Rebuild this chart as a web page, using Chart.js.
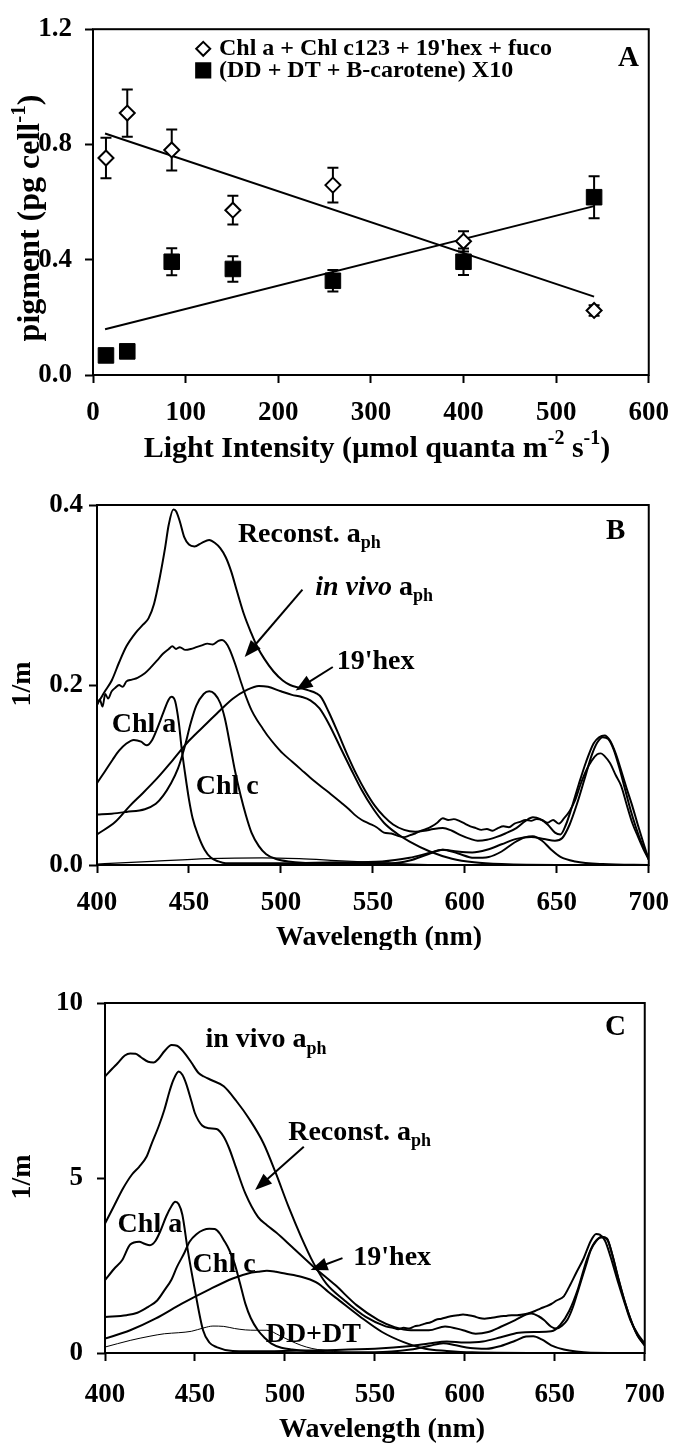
<!DOCTYPE html>
<html>
<head>
<meta charset="utf-8">
<script src="https://cdn.jsdelivr.net/npm/chart.js@4.4.0/dist/chart.umd.min.js"></script>
<style>
  html, body { margin: 0; padding: 0; background: #fff; }
  #wrap { position: relative; width: 683px; height: 1443px; }
  canvas { position: absolute; left: 0; }
</style>
</head>
<body>
<div id="wrap">
  <canvas id="panelA" width="683" height="470" style="top:0px"></canvas>
  <canvas id="panelB" width="683" height="480" style="top:470px"></canvas>
  <canvas id="panelC" width="683" height="493" style="top:950px"></canvas>
</div>
<script>
// ---- panel A : pigment vs light ----
const lightX = [14, 37, 85, 151, 259, 400, 541];
const pigmentMain = [0.753, 0.909, 0.781, 0.572, 0.659, 0.464, 0.224];
const pigmentMainErr = [0.07, 0.082, 0.071, 0.05, 0.06, 0.035, 0.018];
const pigmentCarot = [0.068, 0.082, 0.393, 0.368, 0.327, 0.393, 0.617];
const pigmentCarotErr = [0, 0, 0.047, 0.044, 0.037, 0.046, 0.073];
const fitX = [13, 541];
const fitMain = [0.838, 0.272];
const fitCarot = [0.159, 0.586];
const aTicksX = [0, 100, 200, 300, 400, 500, 600];
const aTicksY = [0, 0.4, 0.8, 1.2];

// ---- panel B : spectra, [nm, 1/m] ----
const bReconst = [[400,0.178],[404,0.192],[408,0.205],[412,0.225],[416,0.243],[421,0.258],[425,0.267],[428,0.274],[431,0.29],[434,0.318],[437,0.352],[439,0.378],[441.5,0.395],[443,0.393],[445,0.382],[447.5,0.364],[450,0.356],[453,0.354],[457,0.358],[461,0.361],[464,0.358],[467,0.352],[470,0.342],[473,0.326],[476,0.305],[480,0.278],[484,0.257],[487,0.243],[491,0.229],[496,0.215],[501,0.205],[505,0.2],[510,0.197],[515,0.194],[519,0.191],[522,0.186],[526,0.17],[531,0.147],[536,0.123],[541,0.101],[546,0.082],[551,0.066],[556,0.054],[561,0.045],[567,0.039],[573,0.037],[578,0.038],[583,0.04],[588,0.041],[593,0.038],[598,0.033],[603,0.029],[607,0.027],[612,0.028],[617,0.031],[622,0.035],[628,0.041],[633,0.049],[637,0.053],[641,0.051],[645,0.045],[649,0.036],[652,0.034],[655,0.045],[658,0.063],[662,0.09],[666,0.115],[670,0.135],[673,0.142],[676,0.144],[679,0.138],[682,0.124],[685,0.105],[688,0.085],[691,0.066],[694,0.045],[697,0.025],[700,0.006]];
const bInVivo = [[400,0.178],[401.5,0.184],[403,0.176],[404.5,0.19],[406,0.185],[408,0.193],[410,0.197],[412,0.2],[414,0.198],[416,0.204],[419,0.206],[422,0.208],[426,0.213],[429,0.219],[433,0.228],[436,0.235],[439,0.24],[441,0.243],[443,0.24],[445,0.242],[448,0.239],[451,0.24],[454,0.242],[457,0.244],[460,0.246],[463,0.245],[466,0.249],[468,0.25],[470,0.247],[472,0.24],[475,0.224],[478,0.205],[481,0.187],[484,0.172],[487,0.161],[490,0.152],[493,0.143],[497,0.133],[501,0.124],[506,0.115],[511,0.106],[516,0.097],[522,0.087],[527,0.079],[533,0.069],[537,0.062],[540,0.056],[544,0.05],[548,0.046],[552,0.042],[556,0.036],[560,0.035],[564,0.032],[567,0.031],[570,0.033],[573,0.035],[576,0.038],[579,0.04],[582,0.043],[585,0.047],[588,0.052],[591,0.05],[594,0.051],[597,0.049],[600,0.046],[603,0.043],[606,0.041],[609,0.039],[612,0.04],[615,0.038],[618,0.041],[621,0.043],[624,0.042],[627,0.046],[630,0.048],[633,0.05],[636,0.049],[639,0.051],[642,0.05],[645,0.047],[648,0.05],[651,0.046],[654,0.052],[657,0.06],[660,0.072],[663,0.09],[666,0.105],[669,0.116],[672,0.123],[674,0.124],[676,0.121],[679,0.113],[682,0.1],[685,0.088],[688,0.067],[691,0.047],[694,0.032],[697,0.018],[700,0.006]];
const bHex = [[400,0.034],[410,0.048],[418,0.066],[425,0.08],[433,0.097],[441,0.116],[450,0.138],[460,0.158],[467,0.172],[474,0.185],[481,0.194],[488,0.199],[493,0.198],[500,0.193],[506,0.189],[511,0.187],[516,0.183],[521,0.174],[526,0.157],[532,0.132],[538,0.107],[544,0.083],[550,0.063],[556,0.047],[563,0.035],[570,0.026],[581,0.015],[593,0.007],[605,0.003],[620,0.001],[650,0],[700,0]];
const bChlc = [[400,0.056],[408,0.057],[416,0.059],[426,0.062],[432,0.068],[436,0.077],[440,0.09],[444,0.107],[447.5,0.13],[451,0.158],[454,0.177],[458,0.19],[461,0.193],[464,0.19],[467,0.18],[469.5,0.163],[472.5,0.132],[475,0.105],[478,0.078],[481,0.055],[484,0.036],[488,0.021],[492,0.012],[497,0.007],[504,0.004],[520,0.002],[560,0.002],[570,0.005],[580,0.012],[588,0.017],[596,0.013],[605,0.008],[613,0.009],[620,0.015],[627,0.025],[633,0.031],[637,0.032],[642,0.027],[647,0.017],[652,0.009],[660,0.004],[675,0.001],[700,0]];
const bChla = [[400,0.091],[404,0.103],[408.5,0.117],[412,0.127],[416,0.135],[420,0.139],[424,0.137],[427,0.133],[430,0.139],[433,0.153],[436,0.169],[439,0.184],[440.5,0.187],[442.5,0.182],[444.5,0.158],[446,0.13],[448,0.1],[450,0.073],[452,0.052],[455,0.033],[458.5,0.017],[462,0.008],[466,0.004],[470,0.002],[500,0.002],[530,0.003],[555,0.004],[570,0.008],[580,0.013],[588,0.017],[596,0.015],[604,0.014],[612,0.017],[620,0.023],[628,0.029],[636,0.031],[643,0.029],[649,0.027],[653,0.03],[657,0.045],[661,0.068],[665,0.095],[669,0.122],[672,0.136],[675,0.142],[678,0.14],[681,0.128],[684,0.108],[687,0.085],[690,0.062],[693,0.042],[696,0.025],[700,0.007]];
const bDDDT = [[400,0.001],[430,0.004],[460,0.007],[490,0.008],[510,0.007],[530,0.005],[550,0.003],[570,0.001],[600,0],[700,0]];
const bTicksX = [400, 450, 500, 550, 600, 650, 700];
const bTicksY = [0, 0.2, 0.4];

// ---- panel C : spectra, [nm, 1/m] ----
const cInVivo = [[400,7.9],[404,8.12],[407,8.28],[411,8.5],[414,8.56],[417,8.55],[420,8.45],[424,8.32],[427,8.3],[430,8.42],[433,8.62],[437,8.8],[440,8.78],[442,8.7],[445,8.52],[448,8.3],[452,8.0],[455,7.9],[459,7.8],[466,7.62],[473,7.2],[480,6.7],[488,6.0],[495,5.13],[502,4.18],[509,3.32],[516,2.56],[523,1.98],[533,1.51],[545,1.03],[556,0.76],[560,0.72],[563,0.68],[566,0.72],[569,0.7],[572,0.76],[575,0.79],[578,0.84],[581,0.88],[584,0.95],[587,0.98],[590,1.02],[593,1.06],[596,1.08],[599,1.1],[602,1.08],[605,1.05],[608,1.0],[611,0.98],[614,1.0],[617,1.02],[620,1.05],[623,1.06],[626,1.08],[629,1.08],[632,1.1],[635,1.13],[639,1.2],[642,1.27],[645,1.33],[648,1.4],[651,1.5],[655,1.62],[658,1.89],[662,2.3],[666,2.7],[670,3.2],[673,3.4],[675,3.38],[678,3.2],[681,2.75],[685,2.05],[689,1.4],[692,0.94],[696,0.55],[700,0.27]];
const cReconst = [[400,3.7],[405,4.2],[410,4.7],[415,5.1],[419,5.32],[423,5.6],[426,5.99],[430,6.5],[433,6.95],[436,7.5],[438,7.8],[441,8.04],[443,7.95],[445,7.71],[448,7.2],[450,6.85],[454,6.5],[458,6.42],[462,6.4],[466,6.18],[469,5.85],[472,5.42],[478,4.56],[485,3.89],[490,3.65],[495,3.45],[504,3.03],[516,2.46],[528,1.94],[540,1.36],[552,0.94],[561,0.74],[570,0.65],[580,0.65],[589,0.76],[599,0.65],[606,0.55],[613,0.6],[620,0.75],[628,0.94],[634,1.1],[637,1.13],[641,1.05],[644,0.94],[648,0.75],[651,0.7],[654,0.78],[657,0.95],[660,1.3],[663,1.79],[667,2.45],[670,2.94],[673,3.2],[676,3.32],[679,3.27],[682,2.8],[685,2.18],[689,1.45],[693,0.84],[696,0.5],[700,0.22]];
const cChla = [[400,2.08],[405,2.4],[409.5,2.65],[414,3.1],[419,3.18],[422,3.12],[425,3.08],[428,3.2],[431,3.51],[434,3.9],[437,4.2],[439,4.32],[441,4.25],[443,3.95],[446,2.94],[450,1.79],[454.5,0.65],[458,0.3],[462,0.17],[471,0.06],[490,0.05],[520,0.08],[550,0.12],[570,0.2],[580,0.27],[590,0.33],[600,0.3],[610,0.33],[620,0.45],[630,0.58],[640,0.6],[648,0.62],[653,0.8],[658,1.2],[663,1.85],[668,2.7],[672,3.15],[676,3.3],[679,3.25],[682,2.8],[685,2.2],[689,1.45],[693,0.85],[696,0.5],[700,0.22]];
const cChlc = [[400,1.03],[412,1.08],[418,1.15],[424,1.32],[429,1.5],[433,1.79],[437,2.1],[440,2.46],[444,2.85],[447,3.18],[451,3.4],[454.5,3.51],[458,3.55],[461,3.54],[464,3.4],[466,3.23],[469,2.95],[472,2.56],[475,2.0],[478,1.41],[481,1.0],[485,0.65],[489,0.42],[492.5,0.27],[498,0.15],[504,0.1],[521,0.03],[550,0.02],[570,0.1],[580,0.2],[588,0.28],[595,0.22],[603,0.14],[612,0.12],[620,0.2],[628,0.35],[634,0.47],[638,0.48],[643,0.38],[648,0.22],[655,0.1],[662,0.04],[670,0.01],[700,0]];
const cHex = [[400,0.41],[414,0.65],[428,0.98],[442.7,1.41],[457,1.79],[471,2.13],[480,2.28],[485,2.32],[490,2.35],[495,2.32],[500,2.27],[509,2.18],[514,2.1],[518.6,1.98],[524,1.75],[530,1.51],[542,1.03],[554,0.6],[566,0.31],[578,0.12],[590,0.06],[604,0.02],[650,0],[700,0]];
const cDDDT = [[400,0.17],[414,0.36],[425,0.48],[433,0.55],[441,0.58],[448,0.62],[455,0.72],[460,0.77],[466,0.76],[472,0.7],[478,0.66],[484,0.65],[490,0.65],[497,0.5],[503,0.35],[509,0.22],[515,0.13],[521,0.08],[533,0.02],[560,0],[700,0]];
const cTicksX = [400, 450, 500, 550, 600, 650, 700];
const cTicksY = [0, 5, 10];

const SERIF = '"Liberation Serif", "Times New Roman", serif';
Chart.defaults.font.family = SERIF;
Chart.defaults.font.size = 27;
Chart.defaults.font.weight = 'bold';
Chart.defaults.color = '#000';

// text with italic / sub / sup runs
function richText(ctx, parts, x, y, size, align) {
  const fontFor = p => (p.it ? 'italic ' : '') + 'bold ' + (p.sub || p.sup ? Math.round(size * 0.65) : size) + 'px ' + SERIF;
  let total = 0;
  parts.forEach(p => { ctx.font = fontFor(p); total += ctx.measureText(p.t).width; });
  let cx = align === 'center' ? x - total / 2 : x;
  ctx.textAlign = 'left';
  ctx.textBaseline = 'middle';
  parts.forEach(p => {
    ctx.font = fontFor(p);
    const dy = p.sub ? size * 0.32 : p.sup ? -size * 0.35 : 0;
    ctx.fillText(p.t, cx, y + dy);
    cx += ctx.measureText(p.t).width;
  });
}

const errorBars = {
  id: 'errorBars',
  beforeDatasetsDraw(chart) {
    const { ctx, scales: { x, y } } = chart;
    ctx.save();
    ctx.strokeStyle = '#000';
    ctx.lineWidth = 2;
    chart.data.datasets.forEach(ds => {
      if (!ds.errors) return;
      ds.data.forEach((p, i) => {
        const e = ds.errors[i];
        if (!e) return;
        const cx = x.getPixelForValue(p.x);
        const top = y.getPixelForValue(p.y + e);
        const bot = y.getPixelForValue(p.y - e);
        ctx.beginPath();
        ctx.moveTo(cx, top); ctx.lineTo(cx, bot);
        ctx.moveTo(cx - 5.5, top); ctx.lineTo(cx + 5.5, top);
        ctx.moveTo(cx - 5.5, bot); ctx.lineTo(cx + 5.5, bot);
        ctx.stroke();
      });
    });
    ctx.restore();
  }
};

const panelDecor = {
  id: 'panelDecor',
  afterDraw(chart, args, o) {
    const { ctx, chartArea: a, scales } = chart;
    const px = v => scales.x.getPixelForValue(v);
    const py = v => scales.y.getPixelForValue(v);
    ctx.save();
    ctx.strokeStyle = '#000';
    ctx.fillStyle = '#000';
    ctx.lineWidth = 2;
    ctx.strokeRect(a.left, a.top, a.width, a.height);

    (o.arrows || []).forEach(([x1, y1, x2, y2]) => {
      const X1 = px(x1), Y1 = py(y1), X2 = px(x2), Y2 = py(y2);
      const ang = Math.atan2(Y2 - Y1, X2 - X1);
      const L = 17, W = 6.5;
      ctx.beginPath();
      ctx.moveTo(X1, Y1);
      ctx.lineTo(X2 - Math.cos(ang) * L * 0.8, Y2 - Math.sin(ang) * L * 0.8);
      ctx.stroke();
      ctx.beginPath();
      ctx.moveTo(X2, Y2);
      ctx.lineTo(X2 - Math.cos(ang) * L - Math.sin(ang) * W, Y2 - Math.sin(ang) * L + Math.cos(ang) * W);
      ctx.lineTo(X2 - Math.cos(ang) * L + Math.sin(ang) * W, Y2 - Math.sin(ang) * L - Math.cos(ang) * W);
      ctx.closePath();
      ctx.fill();
    });

    (o.markers || []).forEach(m => {
      ctx.fillStyle = m.fill;
      Chart.helpers.drawPoint(ctx, { pointStyle: m.style, radius: m.radius, borderWidth: 2, rotation: 0 }, px(m.x), py(m.y));
    });
    ctx.fillStyle = '#000';

    (o.labels || []).forEach(l => richText(ctx, l.parts, px(l.x), py(l.y), l.size || 28, l.align));

    (o.titles || []).forEach(t => {
      ctx.save();
      ctx.translate(t.x, t.y);
      if (t.rot) ctx.rotate(-Math.PI / 2);
      richText(ctx, t.parts, 0, 0, t.size, 'center');
      ctx.restore();
    });
    ctx.restore();
  }
};

function scaleSet(o) {
  const grid = { drawOnChartArea: false, tickLength: 8, tickWidth: 2, tickColor: '#000' };
  return {
    x: {
      type: 'linear',
      min: o.xTicks[0], max: o.xTicks[o.xTicks.length - 1],
      afterBuildTicks: s => { s.ticks = o.xTicks.map(v => ({ value: v })); },
      afterFit: s => { s.height = o.xH; },
      ticks: { padding: o.xPad, maxRotation: 0, autoSkip: false },
      grid: grid,
      border: { display: false }
    },
    y: {
      type: 'linear',
      min: o.yTicks[0], max: o.yTicks[o.yTicks.length - 1],
      afterBuildTicks: s => { s.ticks = o.yTicks.map(v => ({ value: v })); },
      afterFit: s => { s.width = o.yW; },
      ticks: { padding: o.yPad, autoSkip: false, callback: o.yFmt },
      grid: grid,
      border: { display: false }
    }
  };
}

const pts = pairs => pairs.map(p => ({ x: p[0], y: p[1] }));
const zip = (xs, ys) => xs.map((x, i) => ({ x: x, y: ys[i] }));
const curve = (pairs, w) => ({
  data: pts(pairs), showLine: true, pointRadius: 0, borderColor: '#000',
  borderWidth: w || 2, cubicInterpolationMode: 'monotone'
});

function baseOptions(pad, scales, decor) {
  return {
    responsive: false, animation: false, devicePixelRatio: 1, events: [],
    layout: { padding: pad },
    plugins: { legend: { display: false }, tooltip: { enabled: false }, panelDecor: decor },
    scales: scales
  };
}

// panel A
new Chart(document.getElementById('panelA'), {
  type: 'scatter',
  data: {
    datasets: [
      { data: zip(lightX, pigmentMain), errors: pigmentMainErr, pointStyle: 'rectRot', pointRadius: 7.5,
        backgroundColor: '#fff', borderColor: '#000', borderWidth: 2 },
      { data: zip(lightX, pigmentCarot), errors: pigmentCarotErr, pointStyle: 'rect', pointRadius: 11,
        backgroundColor: '#000', borderColor: '#000', borderWidth: 1 },
      { data: zip(fitX, fitMain), showLine: true, pointRadius: 0, borderColor: '#000', borderWidth: 2 },
      { data: zip(fitX, fitCarot), showLine: true, pointRadius: 0, borderColor: '#000', borderWidth: 2 }
    ]
  },
  options: baseOptions({ top: 22, right: 22, left: 0, bottom: 0 },
    scaleSet({ xTicks: aTicksX, yTicks: aTicksY, xH: 95, yW: 93, xPad: 14, yPad: 13, yFmt: v => v.toFixed(1) }),
    {
      markers: [
        { style: 'rectRot', radius: 7, fill: '#fff', x: 119, y: 1.132 },
        { style: 'rect', radius: 10, fill: '#000', x: 119, y: 1.057 }
      ],
      labels: [
        { parts: [{ t: "Chl a + Chl c123 + 19'hex + fuco" }], x: 136, y: 1.132, size: 24 },
        { parts: [{ t: '(DD + DT + B-carotene) X10' }], x: 136, y: 1.057, size: 24 },
        { parts: [{ t: 'A' }], x: 578, y: 1.098, size: 29, align: 'center' }
      ],
      titles: [
        { parts: [{ t: 'Light Intensity (µmol quanta m' }, { t: '-2', sup: true }, { t: ' s' }, { t: '-1', sup: true }, { t: ')' }], x: 377, y: 449, size: 30 },
        { parts: [{ t: 'pigment (pg cell' }, { t: '-1', sup: true }, { t: ')' }], x: 31, y: 218, size: 32, rot: true }
      ]
    })
  ,
  plugins: [errorBars, panelDecor]
});

// panel B
new Chart(document.getElementById('panelB'), {
  type: 'scatter',
  data: {
    datasets: [
      curve(bReconst), curve(bInVivo, 1.9), curve(bHex), curve(bChlc), curve(bChla), curve(bDDDT, 1.2)
    ]
  },
  options: baseOptions({ top: 35, right: 22, left: 0, bottom: 0 },
    scaleSet({ xTicks: bTicksX, yTicks: bTicksY, xH: 85, yW: 97, xPad: 14, yPad: 6, yFmt: v => v.toFixed(1) }),
    {
      arrows: [[511.7, 0.306, 480.3, 0.231], [528.2, 0.22, 508, 0.194]],
      labels: [
        { parts: [{ t: 'Reconst. a' }, { t: 'ph', sub: true }], x: 476.6, y: 0.367 },
        { parts: [{ t: 'B' }], x: 682, y: 0.37, size: 29, align: 'center' },
        { parts: [{ t: 'in vivo ', it: true }, { t: 'a' }, { t: 'ph', sub: true }], x: 518.6, y: 0.308 },
        { parts: [{ t: "19'hex" }], x: 530.3, y: 0.226 },
        { parts: [{ t: 'Chl a' }], x: 408, y: 0.156 },
        { parts: [{ t: 'Chl c' }], x: 453.7, y: 0.087 }
      ],
      titles: [
        { parts: [{ t: 'Wavelength (nm)' }], x: 379, y: 468, size: 28 },
        { parts: [{ t: '1/m' }], x: 23, y: 214, size: 28, rot: true }
      ]
    }),
  plugins: [panelDecor]
});

// panel C
new Chart(document.getElementById('panelC'), {
  type: 'scatter',
  data: {
    datasets: [
      curve(cInVivo, 2), curve(cReconst), curve(cChla), curve(cChlc), curve(cHex), curve(cDDDT, 1)
    ]
  },
  options: baseOptions({ top: 53, right: 24, left: 0, bottom: 0 },
    scaleSet({ xTicks: cTicksX, yTicks: cTicksY, xH: 90, yW: 105, xPad: 18, yPad: 14, yFmt: v => String(v) }),
    {
      arrows: [[510.5, 5.89, 483.4, 4.66], [532, 2.71, 514.3, 2.37]],
      labels: [
        { parts: [{ t: 'in vivo a' }, { t: 'ph', sub: true }], x: 455.8, y: 8.94 },
        { parts: [{ t: 'C' }], x: 683.7, y: 9.29, size: 29, align: 'center' },
        { parts: [{ t: 'Reconst. a' }, { t: 'ph', sub: true }], x: 501.8, y: 6.29 },
        { parts: [{ t: 'Chl a' }], x: 407, y: 3.66 },
        { parts: [{ t: 'Chl c' }], x: 448.7, y: 2.51 },
        { parts: [{ t: "19'hex" }], x: 538, y: 2.71 },
        { parts: [{ t: 'DD+DT' }], x: 489.3, y: 0.51 }
      ],
      titles: [
        { parts: [{ t: 'Wavelength (nm)' }], x: 382, y: 480, size: 28 },
        { parts: [{ t: '1/m' }], x: 23, y: 227, size: 28, rot: true }
      ]
    }),
  plugins: [panelDecor]
});
</script>
</body>
</html>
